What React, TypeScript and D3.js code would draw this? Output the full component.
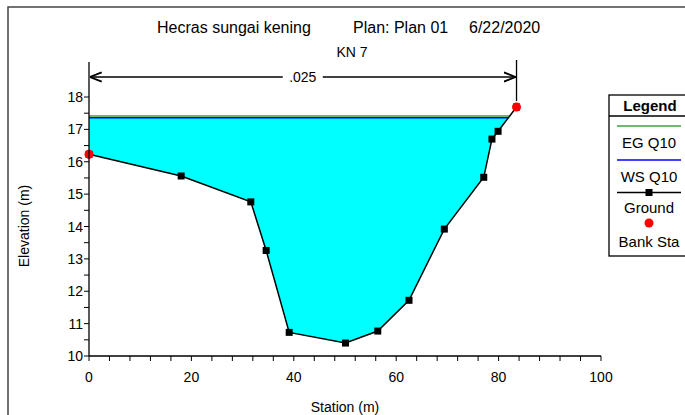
import * as d3 from "d3";

// ground profile (station m, elevation m)
const groundSta = [0, 18.0, 31.6, 34.6, 39.1, 50.1, 56.4, 62.5, 69.4, 77.1, 78.7, 79.9, 83.5];
const groundElev = [16.23, 15.56, 14.76, 13.26, 10.73, 10.4, 10.77, 11.72, 13.92, 15.52, 16.7, 16.94, 17.69];
const bankSta = [0, 83.5];
const bankElev = [16.23, 17.69];
const wsElev = 17.36;
const egElev = 17.41;
const manningN = ".025";
const xTicks = [0, 20, 40, 60, 80, 100];
const yTicks = [10, 11, 12, 13, 14, 15, 16, 17, 18];

const FONT = "'Liberation Sans', Arial, sans-serif";
const W = 685;
const H = 415;

export default function App() {
  const x = d3.scaleLinear().domain([0, 100]).range([89, 601]);
  const y = d3.scaleLinear().domain([10, 18]).range([356, 97]);

  const pts = groundSta.map((s, i) => ({ s, e: groundElev[i] }));

  // water polygon: ground clipped below water surface
  const water: [number, number][] = [];
  for (let i = 0; i < pts.length; i++) {
    const p = pts[i];
    if (p.e <= wsElev) {
      if (water.length === 0) water.push([p.s, wsElev]);
      water.push([p.s, p.e]);
    }
    const q = pts[i + 1];
    if (q && (p.e - wsElev) * (q.e - wsElev) < 0) {
      const t = (wsElev - p.e) / (q.e - p.e);
      water.push([p.s + t * (q.s - p.s), wsElev]);
    }
  }
  const waterLeft = water[0][0];
  const waterRight = water[water.length - 1][0];

  const line = d3
    .line<{ s: number; e: number }>()
    .x((d) => x(d.s))
    .y((d) => y(d.e));
  const area = d3
    .line<[number, number]>()
    .x((d) => x(d[0]))
    .y((d) => y(d[1]));

  const xMinor = d3.range(0, 100.01, 4);
  const yMinor = d3.range(10, 18.01, 0.5);

  const rightBank = x(bankSta[1]);
  const arrowY = 77;
  const midX = (x(0) + rightBank) / 2;

  return (
    <div style={{ position: "fixed", left: 0, top: 0 }}>
      <svg width={W} height={H} style={{ display: "block", background: "#fff" }} fontFamily={FONT}>
        <defs>
          <marker id="ah" viewBox="0 0 10 10" refX="10" refY="5" markerWidth="9" markerHeight="9" orient="auto-start-reverse">
            <path d="M0,1 L10,5 L0,9" fill="none" stroke="#000" strokeWidth={1.6} />
          </marker>
        </defs>
        {/* outer frame */}
        <rect x={8} y={7} width={W} height={H} fill="none" stroke="#444" strokeWidth={1.5} />

        {/* titles */}
        <text x={157} y={33} fontSize={16}>Hecras sungai kening</text>
        <text x={353} y={33} fontSize={16}>Plan: Plan 01</text>
        <text x={469} y={33} fontSize={16}>6/22/2020</text>
        <text x={352} y={57} fontSize={14} textAnchor="middle">KN 7</text>

        {/* water */}
        <path d={area(water) ?? ""} fill="#00ffff" />
        <line x1={x(waterLeft)} x2={x(waterRight) + 1} y1={y(egElev)} y2={y(egElev)} stroke="#3fa03f" strokeWidth={1.5} />
        <line x1={x(waterLeft)} x2={x(waterRight)} y1={y(wsElev)} y2={y(wsElev)} stroke="#0000ff" strokeWidth={1.5} />

        {/* ground */}
        <path d={line(pts) ?? ""} fill="none" stroke="#000" strokeWidth={1.5} />
        {pts.map((p, i) => (
          <rect key={i} x={x(p.s) - 3.5} y={y(p.e) - 3.5} width={7} height={7} fill="#000" />
        ))}
        {bankSta.map((s, i) => (
          <circle key={i} cx={x(s)} cy={y(bankElev[i])} r={4.5} fill="#ff0000" />
        ))}

        {/* n value bracket */}
        <line x1={x(0)} x2={x(0)} y1={62} y2={y(10)} stroke="#000" strokeWidth={1.3} />
        <line x1={rightBank} x2={rightBank} y1={60} y2={y(bankElev[1]) - 6} stroke="#000" strokeWidth={1.3} />
        <line x1={x(0) + 1} x2={midX - 20} y1={arrowY} y2={arrowY} stroke="#000" strokeWidth={1.3} markerStart="url(#ah)" />
        <line x1={midX + 20} x2={rightBank - 1} y1={arrowY} y2={arrowY} stroke="#000" strokeWidth={1.3} markerEnd="url(#ah)" />
        <text x={midX} y={arrowY + 5} fontSize={14} textAnchor="middle">{manningN}</text>

        {/* x axis */}
        <line x1={x(0)} x2={x(100)} y1={y(10)} y2={y(10)} stroke="#000" strokeWidth={1.3} />
        {xMinor.map((v) => (
          <line key={v} x1={x(v)} x2={x(v)} y1={y(10)} y2={y(10) + 5} stroke="#000" strokeWidth={1} />
        ))}
        {xTicks.map((v) => (
          <text key={v} x={x(v)} y={382} fontSize={14} textAnchor="middle">{v}</text>
        ))}
        <text x={345} y={412} fontSize={14} textAnchor="middle">Station (m)</text>

        {/* y axis */}
        {yMinor.map((v) => (
          <line key={v} x1={x(0) - 5} x2={x(0)} y1={y(v)} y2={y(v)} stroke="#000" strokeWidth={1} />
        ))}
        {yTicks.map((v) => (
          <text key={v} x={83} y={y(v) + 5} fontSize={14} textAnchor="end">{v}</text>
        ))}
        <text transform="translate(29,226) rotate(-90)" fontSize={14} textAnchor="middle">Elevation (m)</text>

        {/* legend */}
        <g>
          <rect x={609} y={95} width={90} height={161} fill="#fff" stroke="#000" strokeWidth={1.3} />
          <line x1={609} x2={699} y1={116} y2={116} stroke="#000" strokeWidth={1.3} />
          <text x={650} y={111} fontSize={15} fontWeight="bold" textAnchor="middle">Legend</text>
          <line x1={617} x2={681} y1={126} y2={126} stroke="#3fa03f" strokeWidth={1.3} />
          <text x={649} y={148} fontSize={15} textAnchor="middle">EG Q10</text>
          <line x1={617} x2={681} y1={160} y2={160} stroke="#0000ff" strokeWidth={1.6} />
          <text x={649} y={182} fontSize={15} textAnchor="middle">WS Q10</text>
          <line x1={617} x2={681} y1={192.5} y2={192.5} stroke="#000" strokeWidth={1.3} />
          <rect x={645.5} y={189} width={7} height={7} fill="#000" />
          <text x={649} y={213} fontSize={15} textAnchor="middle">Ground</text>
          <circle cx={649} cy={223} r={4.5} fill="#ff0000" />
          <text x={649} y={247} fontSize={15} textAnchor="middle">Bank Sta</text>
        </g>
      </svg>
    </div>
  );
}
